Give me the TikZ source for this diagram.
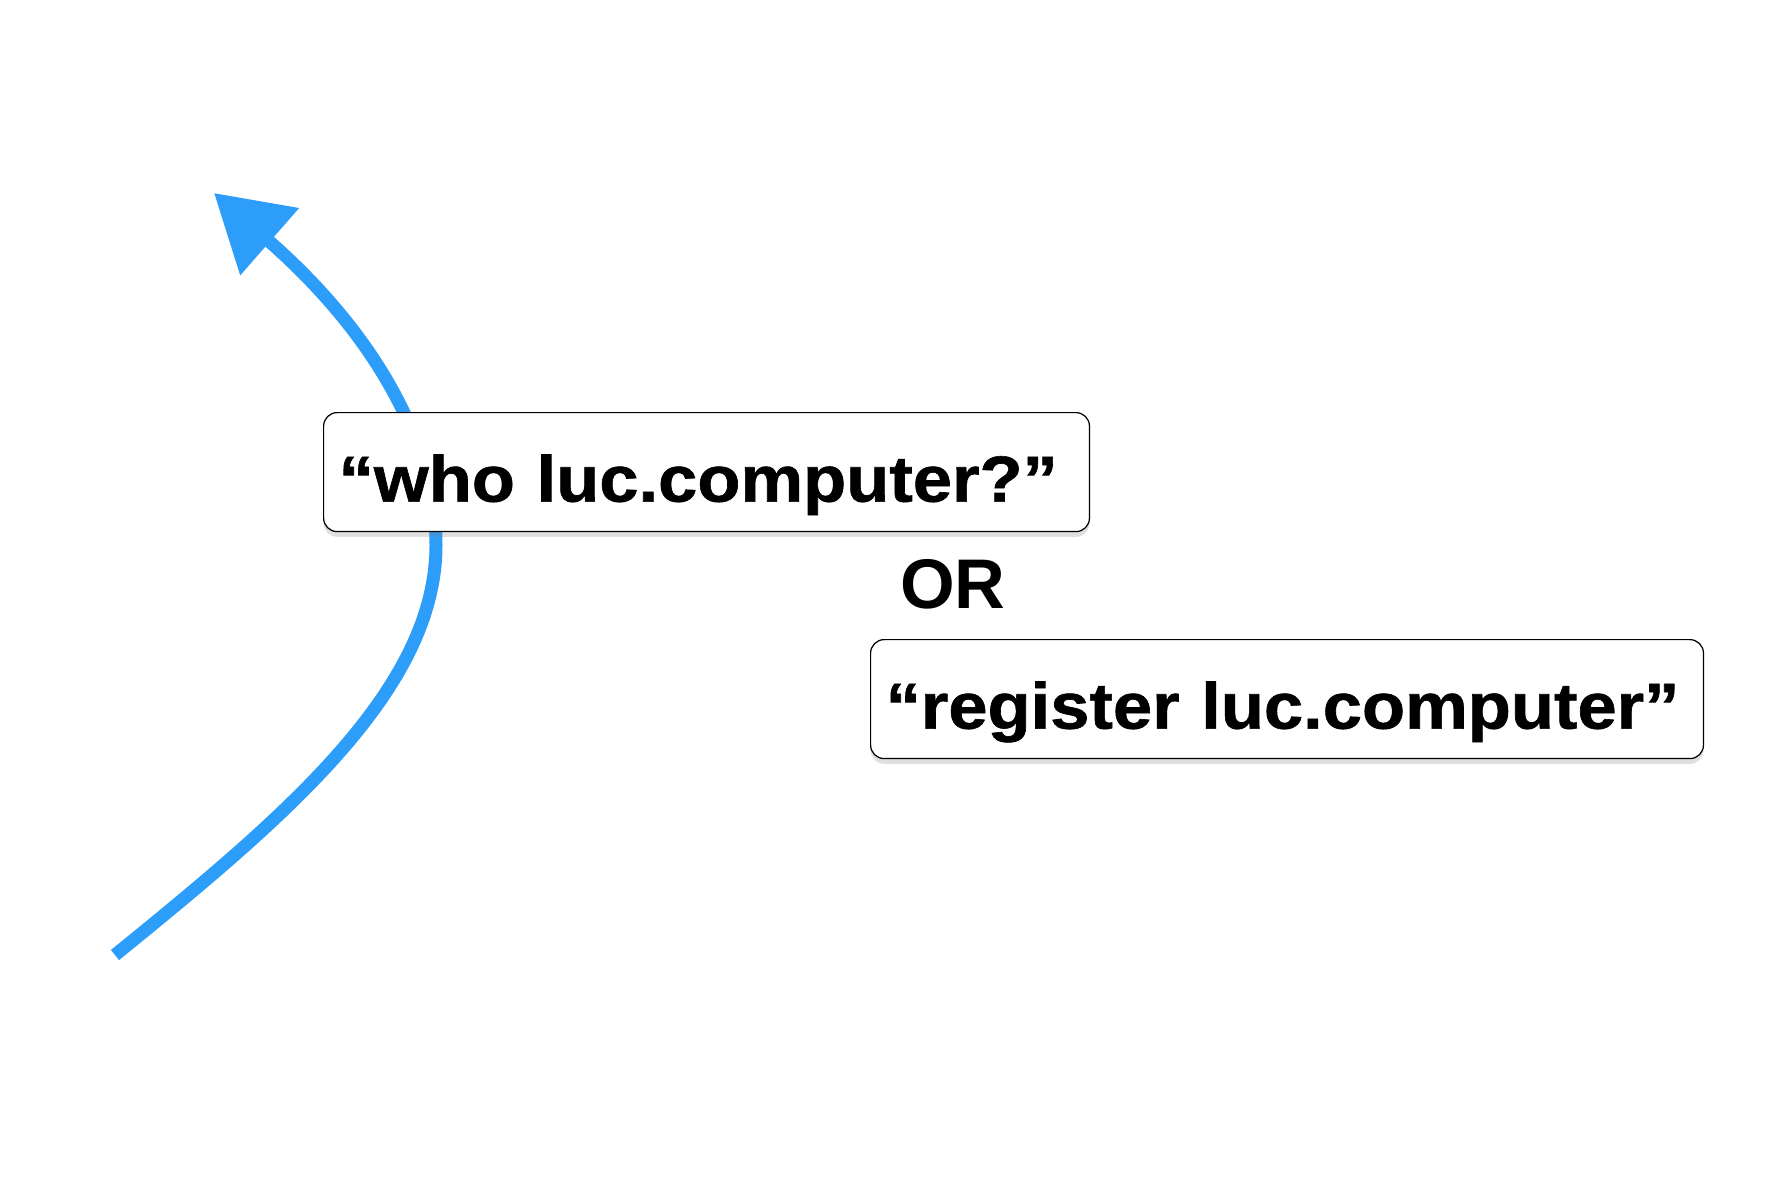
\documentclass[tikz,border=0pt]{standalone}
\usepackage{fontspec}
\setmainfont{Liberation Sans}
\newfontfamily\boxfont{Liberation Sans}[FakeStretch=1.085,FakeBold=1]
\usepackage{tikz}
\usetikzlibrary{arrows.meta,backgrounds,shadows}
\definecolor{flowblue}{RGB}{45,157,250}

\begin{document}
\begin{tikzpicture}[
    x=0.02cm,y=-0.02cm,
    query/.style={draw,fill=white,rounded corners=0.27cm,line width=0.7pt,inner ysep=0pt,
        text height=1.78cm,text depth=0.6cm,inner xsep=0.3cm,align=left,
        font=\fontsize{37}{44}\boxfont\bfseries,
        drop shadow={shadow xshift=0pt,shadow yshift=-3pt,opacity=0.25}},
    flow/.style={draw=flowblue,line width=0.26cm},
    >={Triangle[length=1.48cm,width=1.72cm]},
]
    \useasboundingbox (0,0) rectangle (1767,1203);

    \node[query,text width=14.72cm,anchor=north west] (who) at (323,412) {“who luc.computer?”};
    \node[font=\fontsize{40}{48}\selectfont\bfseries] (or) at (953,584) {OR};
    \node[query,text width=16.06cm,anchor=north west] (register) at (870,639) {“register luc.computer”};

    \coordinate (start) at (115,955);
    \coordinate (bend) at (436,545);
    \coordinate (tip) at (214,193);

    \begin{scope}[on background layer]
        \draw[flow,->] (start) .. controls (285,817) and (436,690) .. (bend)
            .. controls (436,450) and (382,340) .. (tip);
    \end{scope}
\end{tikzpicture}
\end{document}
